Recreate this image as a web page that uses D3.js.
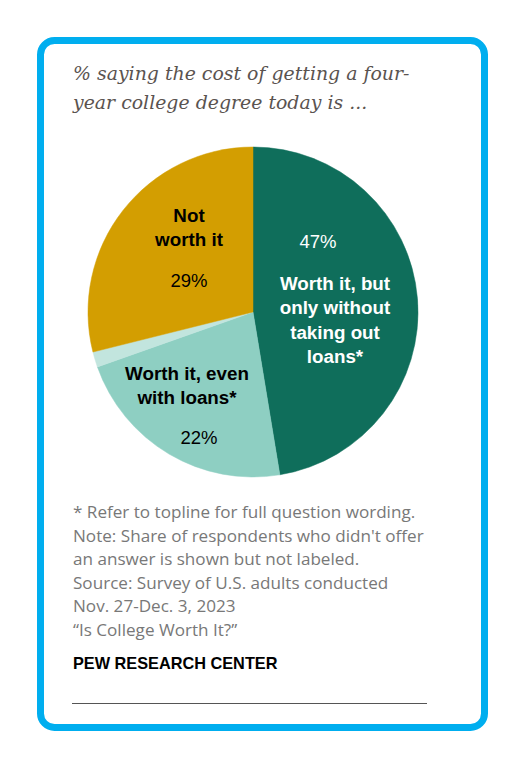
<!DOCTYPE html>
<html>
<head>
<meta charset="utf-8">
<script src="https://cdn.jsdelivr.net/npm/d3@7"></script>
<style>
  body { margin: 0; background: #fff; }
  svg { display: block; }
</style>
</head>
<body>
<div id="chart"></div>
<script>
;(function() {
  "use strict";

  // Data
  // ---------------------------------------------------------------------------
  var categories = ["Worth it, but only without taking out loans*", "Worth it, even with loans*", "No answer", "Not worth it"];
  var values = [47.4, 22.2, 1.5, 28.9];
  var pctLabels = ["47%", "22%", "", "29%"];
  var colors = ["#0f6e5b", "#8ecfc2", "#c2e5de", "#d39e01"];
  var titleLines = ["% saying the cost of getting a four-", "year college degree today is ..."];
  var noteLines = [
    "* Refer to topline for full question wording.",
    "Note: Share of respondents who didn't offer",
    "an answer is shown but not labeled.",
    "Source: Survey of U.S. adults conducted",
    "Nov. 27-Dec. 3, 2023",
    "\u201cIs College Worth It?\u201d"
  ];

  var W = 525, H = 767;
  var cx = 253, cy = 312, r = 165;

  var svg = d3.select("#chart").append("svg")
    .attr("width", W)
    .attr("height", H);

  // Frame
  svg.append("rect")
    .attr("x", 40.5).attr("y", 40.5)
    .attr("width", 444).attr("height", 687)
    .attr("rx", 14).attr("ry", 14)
    .attr("fill", "none")
    .attr("stroke", "#00aeef")
    .attr("stroke-width", 7);

  // Title
  svg.append("g").selectAll("text")
    .data(titleLines)
    .enter().append("text")
      .attr("x", 73)
      .attr("y", function(d, i) { return 80 + i * 29; })
      .attr("font-family", "DejaVu Serif")
      .attr("font-style", "italic")
      .attr("font-size", 18.9)
      .attr("fill", "#5a5350")
      .text(function(d) { return d; });

  // Pie
  var pie = d3.pie().sort(null).value(function(d) { return d; });
  var arc = d3.arc().innerRadius(0).outerRadius(r);
  var arcs = pie(values);

  var g = svg.append("g").attr("transform", "translate(" + [cx, cy] + ")");
  g.selectAll("path")
    .data(arcs)
    .enter().append("path")
      .attr("d", arc)
      .attr("fill", function(d, i) { return colors[i]; })
      .attr("stroke", function(d, i) { return colors[i]; })
      .attr("stroke-width", 0.5);

  // Labels (offsets relative to pie centre)
  var labels = [
    { idx: 0, px: 65, py: -70, lines: ["Worth it, but", "only without", "taking out", "loans*"], lx: 82, ly: -29, fill: "#fff" },
    { idx: 3, px: -64, py: -31, lines: ["Not", "worth it"], lx: -64, ly: -97, fill: "#000" },
    { idx: 1, px: -54, py: 126, lines: ["Worth it, even", "with loans*"], lx: -66, ly: 61, fill: "#000" }
  ];

  labels.forEach(function(l) {
    g.append("text")
      .attr("x", l.px).attr("y", l.py)
      .attr("text-anchor", "middle")
      .attr("dy", "0.35em")
      .attr("font-family", "Liberation Sans")
      .attr("font-size", 18.5)
      .attr("fill", l.fill)
      .text(pctLabels[l.idx]);
    g.append("g").selectAll("text")
      .data(l.lines)
      .enter().append("text")
        .attr("x", l.lx)
        .attr("y", function(d, i) { return l.ly + i * 24.5; })
        .attr("dy", "0.35em")
        .attr("text-anchor", "middle")
        .attr("font-family", "Liberation Sans")
        .attr("font-weight", "bold")
        .attr("font-size", 18.8)
        .attr("fill", l.fill)
        .text(function(d) { return d; });
  });

  // Notes
  svg.append("g").selectAll("text")
    .data(noteLines)
    .enter().append("text")
      .attr("x", 73)
      .attr("y", function(d, i) { return 518 + i * 23.5; })
      .attr("font-family", "Open Sans")
      .attr("font-size", 17.1)
      .attr("fill", "#787878")
      .text(function(d) { return d; });

  svg.append("text")
    .attr("x", 73).attr("y", 669)
    .attr("font-family", "Liberation Sans")
    .attr("font-weight", "bold")
    .attr("font-size", 16.3)
    .attr("fill", "#000")
    .text("PEW RESEARCH CENTER");

  svg.append("line")
    .attr("x1", 72).attr("x2", 427)
    .attr("y1", 703.5).attr("y2", 703.5)
    .attr("stroke", "#555")
    .attr("stroke-width", 1);
})();
</script>
</body>
</html>
